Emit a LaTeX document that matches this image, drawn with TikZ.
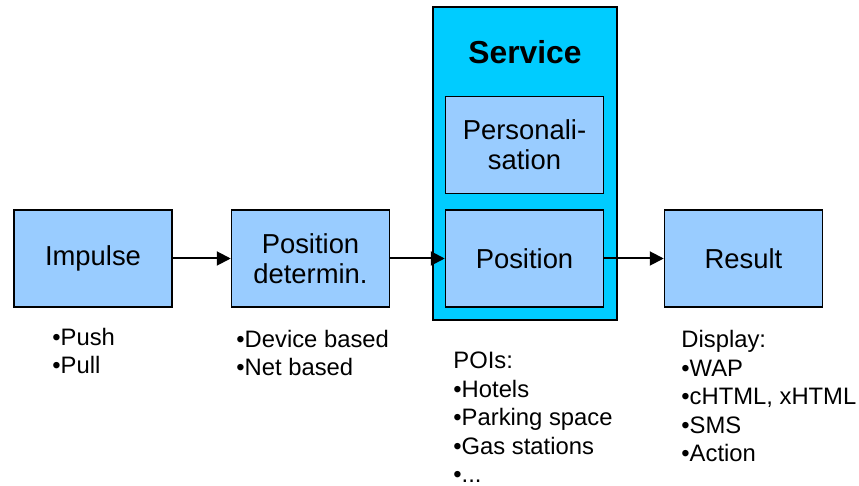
\documentclass[tikz,border=0pt]{standalone}
\usepackage{fontspec}
\setmainfont{Liberation Sans}
\usepackage{xcolor}
\usetikzlibrary{arrows.meta, positioning}
\definecolor{boxblue}{RGB}{153,204,255}
\definecolor{servicecyan}{RGB}{0,204,255}
\tikzset{
    block/.style = {rectangle, minimum width=79pt, minimum height=48.5pt, inner sep=0pt, align=center, draw=black, line width=0.75pt, fill=boxblue, font=\fontsize{13.7}{15}\selectfont},
    servicebox/.style = {rectangle, minimum width=92pt, minimum height=156.5pt, inner sep=0pt, draw=black, line width=0.75pt, fill=servicecyan},
    note/.style = {inner sep=0pt, align=left, anchor=base west, font=\fontsize{11.9}{14.3}\selectfont},
    arrow/.style = {line width=1pt, -{Triangle[length=7pt, width=7pt]}}
}
\begin{document}
\begin{tikzpicture}[x=0.5pt, y=-0.5pt]
\useasboundingbox (0,0) rectangle (859,486);

\node (service) [servicebox] at (525,163.5) {};
\node (servicetitle) [font=\fontsize{15.9}{18}\selectfont\bfseries] at (525,52) {Service};

\node (impulse) [block] at (93,258.5) {Impulse};
\node (posdet) [block] at (310.5,258.5) {Position\\determin.};
\node (personal) [block] at (524.5,145) {Personali-\\sation};
\node (position) [block] at (524.5,258.5) {Position};
\node (result) [block] at (743.5,258.5) {Result};

% base of a note is its last line
\node (impulsenote) [note] at (52,374) {•Push\\•Pull};
\node (posdetnote) [note] at (236,376) {•Device based\\•Net based};
\node (poinote) [note] at (453,483) {POIs:\\•Hotels\\•Parking space\\•Gas stations\\•...};
\node (resultnote) [note] at (681,462) {Display:\\•WAP\\•cHTML, xHTML\\•SMS\\•Action};

\draw [arrow] (impulse) -- (posdet);
\draw [arrow] (posdet) -- (position);
\draw [arrow] (position) -- (result);
\end{tikzpicture}
\end{document}
